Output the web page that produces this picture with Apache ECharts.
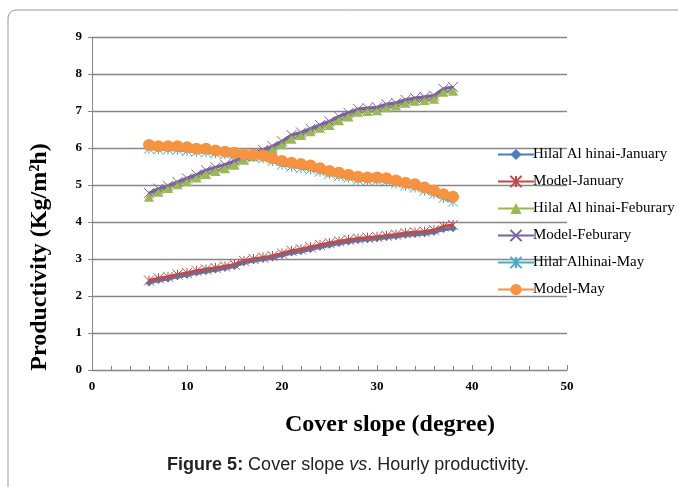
<!DOCTYPE html>
<html>
<head>
<meta charset="utf-8">
<script src="https://cdn.jsdelivr.net/npm/echarts@6/dist/echarts.min.js"></script>
<style>
  html, body { margin: 0; padding: 0; background: #fff; }
  #chart { width: 678px; height: 487px; }
</style>
</head>
<body>
<div id="chart"></div>
<script>
// cover slope (degree)
const slopes = [6, 7, 8, 9, 10, 11, 12, 13, 14, 15, 16, 17, 18, 19, 20, 21, 22,
  23, 24, 25, 26, 27, 28, 29, 30, 31, 32, 33, 34, 35, 36, 37, 38]

const hilalJan = [2.35, 2.42, 2.46, 2.52, 2.56, 2.62, 2.66, 2.7, 2.75, 2.8, 2.9, 2.95, 2.99,
  3.03, 3.1, 3.16, 3.2, 3.26, 3.32, 3.37, 3.42, 3.46, 3.5, 3.52, 3.55, 3.58, 3.61, 3.64,
  3.66, 3.68, 3.72, 3.8, 3.82]
const modelJan = [2.42, 2.48, 2.52, 2.58, 2.62, 2.68, 2.72, 2.76, 2.8, 2.85, 2.95, 3.0, 3.04,
  3.08, 3.15, 3.22, 3.26, 3.32, 3.38, 3.43, 3.48, 3.52, 3.55, 3.58, 3.6, 3.63, 3.66, 3.7,
  3.72, 3.74, 3.78, 3.88, 3.92]
const hilalFeb = [4.68, 4.82, 4.92, 5.02, 5.1, 5.2, 5.3, 5.38, 5.45, 5.55, 5.68, 5.78, 5.88,
  5.98, 6.1, 6.25, 6.35, 6.45, 6.55, 6.62, 6.75, 6.85, 6.98, 7.0, 7.02, 7.1, 7.15, 7.22,
  7.28, 7.3, 7.33, 7.52, 7.55]
const modelFeb = [4.78, 4.9, 4.98, 5.08, 5.18, 5.28, 5.4, 5.48, 5.55, 5.65, 5.78, 5.85, 5.95,
  6.05, 6.18, 6.35, 6.42, 6.52, 6.62, 6.72, 6.85, 6.95, 7.05, 7.08, 7.1, 7.18, 7.22, 7.3,
  7.35, 7.38, 7.42, 7.6, 7.65]
const hilalMay = [5.98, 5.97, 5.96, 5.95, 5.92, 5.9, 5.88, 5.86, 5.83, 5.8, 5.78, 5.76, 5.72,
  5.65, 5.55, 5.5, 5.46, 5.42, 5.36, 5.3, 5.24, 5.2, 5.14, 5.12, 5.12, 5.1, 5.04, 4.98,
  4.93, 4.85, 4.76, 4.65, 4.55]
const modelMay = [6.08, 6.05, 6.05, 6.05, 6.02, 5.98, 5.98, 5.93, 5.9, 5.87, 5.83, 5.82, 5.8,
  5.72, 5.65, 5.6, 5.57, 5.53, 5.45, 5.38, 5.33, 5.28, 5.22, 5.2, 5.2, 5.18, 5.12, 5.06,
  5.02, 4.93, 4.85, 4.75, 4.68]

const seriesNames = ['Hilal Al hinai-January', 'Model-January', 'Hilal Al hinai-Feburary',
  'Model-Feburary', 'Hilal Alhinai-May', 'Model-May']

const ASTER = 'path://M0,0L10,10M10,0L0,10M5,0L5,10'
const CROSS = 'path://M0,0L10,10M10,0L0,10'

const serif = '"Liberation Serif", "DejaVu Serif", serif'
const sans = '"Liberation Sans", Arial, sans-serif'
const gridCol = '#868686'

function line(name, vals, color, symbol, size, stroke) {
  return {
    name,
    type: 'line',
    data: slopes.map((s, i) => [s, vals[i]]),
    symbol,
    symbolSize: size,
    showAllSymbol: true,
    lineStyle: { color, width: 3.2 },
    itemStyle: stroke
      ? { color, borderColor: color, borderWidth: 1 }
      : { color },
    emphasis: { disabled: true },
  }
}

const chart = echarts.init(document.getElementById('chart'), null, { renderer: 'canvas' })

chart.setOption({
  animation: false,
  backgroundColor: '#fff',
  grid: { left: 92, right: 111, top: 37, bottom: 117 },
  legend: {
    orient: 'vertical',
    left: 492,
    top: 142,
    itemGap: 12,
    itemWidth: 36,
    itemHeight: 14,
    textStyle: { fontFamily: serif, fontSize: 15, color: '#000', padding: [0, 0, 0, -6] },
    data: seriesNames,
  },
  xAxis: {
    type: 'value',
    min: 0,
    max: 50,
    interval: 10,
    axisLine: { lineStyle: { color: gridCol } },
    axisTick: { inside: true, length: 5, lineStyle: { color: gridCol } },
    minorTick: { show: true, splitNumber: 5, length: 4, lineStyle: { color: gridCol } },
    splitLine: { show: false },
    axisLabel: { fontFamily: serif, fontWeight: 'bold', fontSize: 13, color: '#000', margin: 10 },
  },
  yAxis: {
    type: 'value',
    min: 0,
    max: 9,
    interval: 1,
    axisLine: { show: true, lineStyle: { color: gridCol } },
    axisTick: { show: true, length: 4, lineStyle: { color: gridCol } },
    splitLine: { lineStyle: { color: gridCol, width: 1.3 } },
    axisLabel: { fontFamily: serif, fontWeight: 'bold', fontSize: 13, color: '#000', margin: 10 },
  },
  graphic: [
    {
      type: 'rect',
      shape: { x: 8, y: 10, width: 720, height: 520, r: 8 },
      style: { fill: 'none', stroke: '#9a9a9a', lineWidth: 1 },
      silent: true,
    },
    {
      type: 'text',
      x: 40,
      y: 257,
      rotation: Math.PI / 2,
      style: {
        text: 'Productivity (Kg/m²h)',
        font: 'bold 24px ' + serif,
        fill: '#000',
        align: 'center',
        verticalAlign: 'middle',
      },
    },
    {
      type: 'text',
      x: 390,
      y: 425,
      style: {
        text: 'Cover slope (degree)',
        font: 'bold 24px ' + serif,
        fill: '#000',
        align: 'center',
        verticalAlign: 'middle',
      },
    },
    {
      type: 'text',
      x: 348,
      y: 465,
      style: {
        text: '{b|Figure 5:} Cover slope {i|vs}. Hourly productivity.',
        font: '18px ' + sans,
        fill: '#222',
        align: 'center',
        verticalAlign: 'middle',
        rich: {
          b: { fontWeight: 'bold', fontSize: 18, fontFamily: sans, fill: '#222' },
          i: { fontStyle: 'italic', fontSize: 18, fontFamily: sans, fill: '#222' },
        },
      },
    },
  ],
  series: [
    line(seriesNames[0], hilalJan, '#4a7ebb', 'diamond', 7, false),
    line(seriesNames[1], modelJan, '#be4b48', ASTER, 10, true),
    line(seriesNames[2], hilalFeb, '#98b954', 'triangle', 10, false),
    line(seriesNames[3], modelFeb, '#7d60a0', CROSS, 10, true),
    line(seriesNames[4], hilalMay, '#46aac5', ASTER, 10, true),
    line(seriesNames[5], modelMay, '#f69240', 'circle', 12, false),
  ],
})
</script>
</body>
</html>
